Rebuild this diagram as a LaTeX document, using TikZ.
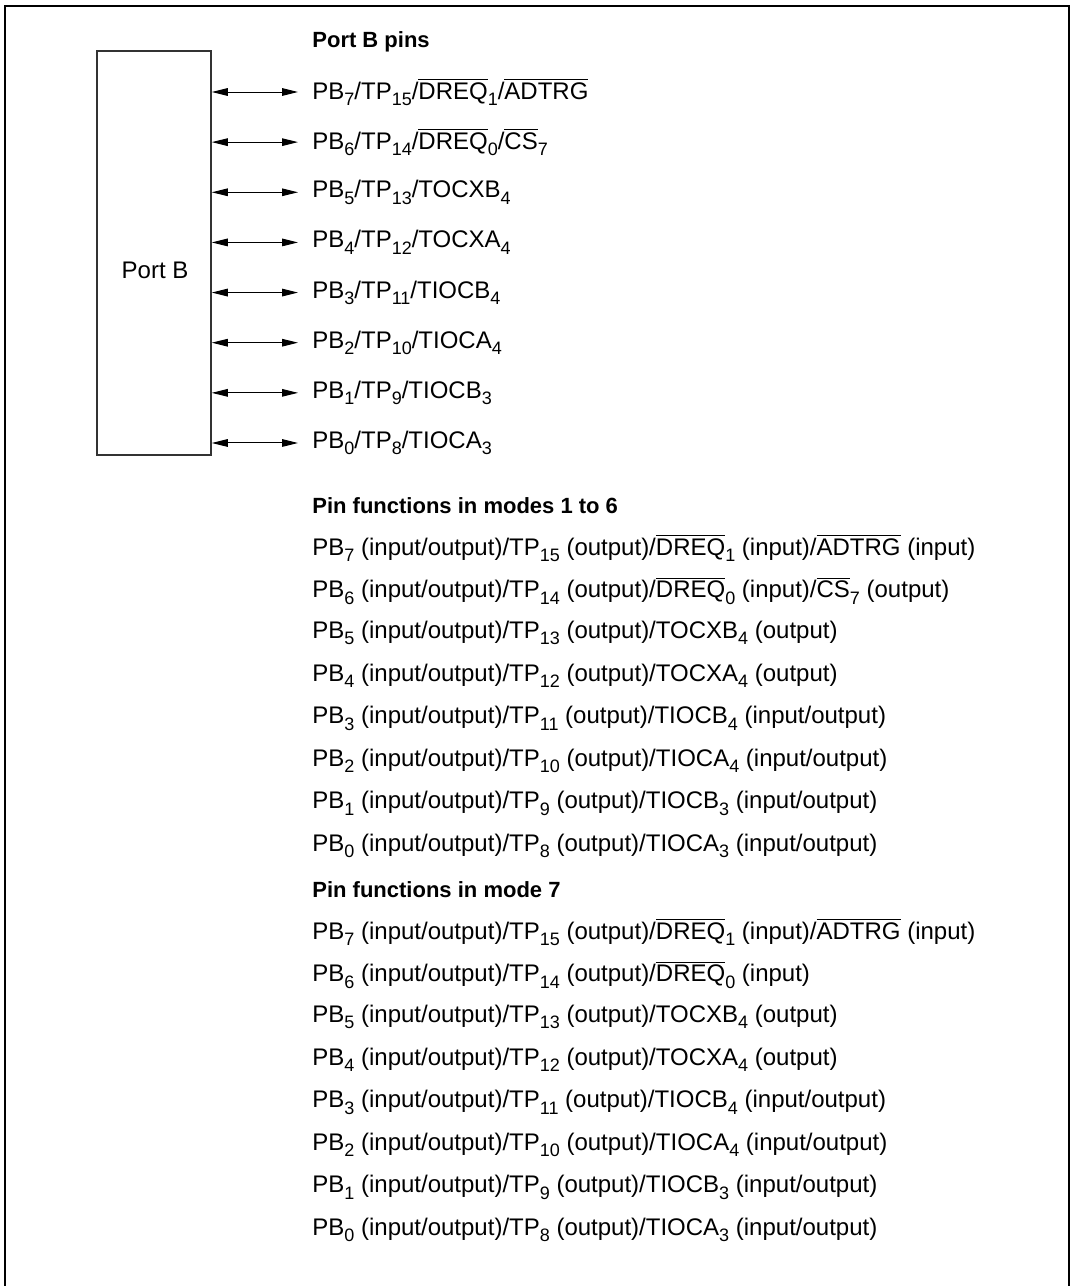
\documentclass[tikz,border=0pt]{standalone}
\usepackage{fontspec}
\setmainfont{Liberation Sans}
\usepackage{tikz}
\usetikzlibrary{arrows.meta,positioning,calc}
\newcommand\ovl[1]{$\overline{\mbox{#1}}$}
\newcommand\sub[1]{\raisebox{-0.5ex}{\fontsize{9}{9}\selectfont#1}}

\begin{document}
\begin{tikzpicture}[
  x=0.5pt, y=-0.5pt, font=\fontsize{12}{14}\selectfont,
  frame/.style={line width=1.3pt,draw=black},
  portbox/.style={draw=black!80,line width=0.75pt,minimum width=57pt,minimum height=202pt,inner sep=0pt},
  pin/.style={anchor=west,inner sep=0pt},
  head/.style={anchor=west,inner sep=0pt,font=\fontsize{11}{13}\selectfont\bfseries},
  arr/.style={{Triangle[length=8pt,width=3.8pt]}-{Triangle[length=8pt,width=3.8pt]},line width=0.5pt}]
\useasboundingbox (0,0) rectangle (1073,1286);
\draw[frame] (5,1290) -- (5,6) -- (1069,6) -- (1069,1290);
\node[portbox] (port) at (154,253) {};
\node (portlbl) at (155,270) {Port B};
\node[head] (hpins) at (312,42) {Port B pins};
% pins with arrows
\foreach \i/\txt in {0/{PB\sub7/TP\sub{15}/\ovl{DREQ}\sub1/\ovl{ADTRG}},
  1/{PB\sub6/TP\sub{14}/\ovl{DREQ}\sub0/\ovl{CS}\sub7},
  2/{PB\sub5/TP\sub{13}/TOCXB\sub4},
  3/{PB\sub4/TP\sub{12}/TOCXA\sub4},
  4/{PB\sub3/TP\sub{11}/TIOCB\sub4},
  5/{PB\sub2/TP\sub{10}/TIOCA\sub4},
  6/{PB\sub1/TP\sub9/TIOCB\sub3},
  7/{PB\sub0/TP\sub8/TIOCA\sub3}}{
  \node[pin] (p\i) at (312,{92+50.14*\i}) {\txt};
  \coordinate (t\i) at (298,{92+50.14*\i});
  \draw[arr] (port.east |- t\i) -- (t\i);
}
% modes 1 to 6
\node[head] (hmodes) at (312,506) {Pin functions in modes 1 to 6};
\foreach \i/\txt in {0/{PB\sub7 (input/output)/TP\sub{15} (output)/\ovl{DREQ}\sub1 (input)/\ovl{ADTRG} (input)},
  1/{PB\sub6 (input/output)/TP\sub{14} (output)/\ovl{DREQ}\sub0 (input)/\ovl{CS}\sub7 (output)},
  2/{PB\sub5 (input/output)/TP\sub{13} (output)/TOCXB\sub4 (output)},
  3/{PB\sub4 (input/output)/TP\sub{12} (output)/TOCXA\sub4 (output)},
  4/{PB\sub3 (input/output)/TP\sub{11} (output)/TIOCB\sub4 (input/output)},
  5/{PB\sub2 (input/output)/TP\sub{10} (output)/TIOCA\sub4 (input/output)},
  6/{PB\sub1 (input/output)/TP\sub9 (output)/TIOCB\sub3 (input/output)},
  7/{PB\sub0 (input/output)/TP\sub8 (output)/TIOCA\sub3 (input/output)}}{
  \node[pin] (m\i) at (312,{548+42.57*\i}) {\txt};
}
% mode 7
\node[head] (hseven) at (312,890) {Pin functions in mode 7};
\foreach \i/\txt in {0/{PB\sub7 (input/output)/TP\sub{15} (output)/\ovl{DREQ}\sub1 (input)/\ovl{ADTRG} (input)},
  1/{PB\sub6 (input/output)/TP\sub{14} (output)/\ovl{DREQ}\sub0 (input)},
  2/{PB\sub5 (input/output)/TP\sub{13} (output)/TOCXB\sub4 (output)},
  3/{PB\sub4 (input/output)/TP\sub{12} (output)/TOCXA\sub4 (output)},
  4/{PB\sub3 (input/output)/TP\sub{11} (output)/TIOCB\sub4 (input/output)},
  5/{PB\sub2 (input/output)/TP\sub{10} (output)/TIOCA\sub4 (input/output)},
  6/{PB\sub1 (input/output)/TP\sub9 (output)/TIOCB\sub3 (input/output)},
  7/{PB\sub0 (input/output)/TP\sub8 (output)/TIOCA\sub3 (input/output)}}{
  \node[pin] (s\i) at (312,{932+42.57*\i}) {\txt};
}
\end{tikzpicture}
\end{document}
